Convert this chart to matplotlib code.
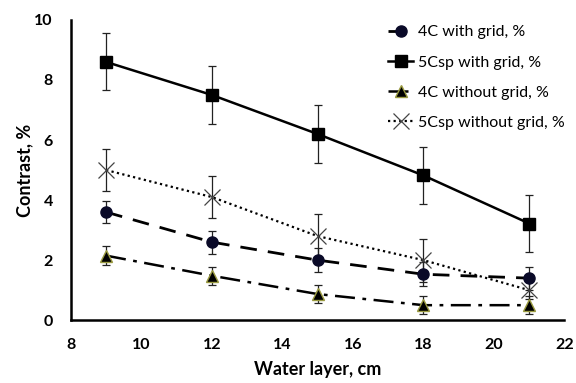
import matplotlib
matplotlib.use("Agg")
import matplotlib.pyplot as plt
from matplotlib.lines import Line2D

x = [9, 12, 15, 18, 21]
c4_grid = [3.6, 2.6, 2.0, 1.53, 1.4]
c4_grid_err = [0.37, 0.38, 0.4, 0.4, 0.38]
c5_grid = [8.6, 7.5, 6.2, 4.82, 3.22]
c5_grid_err = [0.95, 0.95, 0.95, 0.95, 0.95]
c4_nogrid = [2.15, 1.48, 0.87, 0.5, 0.5]
c4_nogrid_err = [0.32, 0.3, 0.3, 0.3, 0.3]
c5_nogrid = [5.0, 4.1, 2.8, 2.0, 1.0]
c5_nogrid_err = [0.7, 0.7, 0.72, 0.72, 0.3]
labels = ["4C with grid, %", "5Csp with grid, %", "4C without grid, %", "5Csp without grid, %"]
xticks = [8, 10, 12, 14, 16, 18, 20, 22]
yticks = [0, 2, 4, 6, 8, 10]

plt.rcParams['font.family'] = ['Lato', 'DejaVu Sans']
plt.rcParams['font.weight'] = 'bold'

fig = plt.figure(figsize=(5.76, 3.83), dpi=100)
ax = fig.add_axes([0.123, 0.164, 0.857, 0.784])

ekw = dict(ecolor='#222222', elinewidth=0.9, capsize=3, capthick=0.9)
styles = [
    dict(color='black', ls=(0, (6, 4)), lw=2, marker='o', ms=8, mfc='#0a0a28', mec='#0a0a28'),
    dict(color='black', ls='-', lw=1.8, marker='s', ms=9, mfc='black', mec='black'),
    dict(color='black', ls=(0, (8, 3, 1.5, 3)), lw=1.8, marker='^', ms=8, mfc='black', mec='#9a9a40'),
    dict(color='black', ls=(0, (1, 1.5)), lw=1.6, marker='x', ms=11, mew=0.9, mfc='none', mec='#444444'),
]
series = [(c4_grid, c4_grid_err), (c5_grid, c5_grid_err), (c4_nogrid, c4_nogrid_err), (c5_nogrid, c5_nogrid_err)]
for (y, e), st in zip(series, styles):
    ax.errorbar(x, y, yerr=e, **st, **ekw)

ax.set_xlim(8, 22)
ax.set_ylim(0, 10)
ax.set_xticks(xticks)
ax.set_yticks(yticks)
ax.tick_params(length=0, labelsize=11.5)
ax.tick_params(axis='x', pad=13)
ax.tick_params(axis='y', pad=13)
ax.spines['top'].set_visible(False)
ax.spines['right'].set_visible(False)
ax.spines['left'].set_linewidth(1.8)
ax.spines['bottom'].set_linewidth(1.8)

ax.set_xlabel("Water layer, cm", fontsize=13, fontweight='bold', labelpad=6)
ax.set_ylabel("Contrast, %", fontsize=13, fontweight='bold', labelpad=1)

handles = [Line2D([], [], **st) for st in styles]
ax.legend(handles, labels, loc='upper right', bbox_to_anchor=(1.03, 1.03), frameon=False,
          prop={'size': 11.5, 'weight': 'normal'}, handlelength=1.6, labelspacing=1.0,
          handletextpad=0.3)

fig.savefig("out.png", dpi=100)
